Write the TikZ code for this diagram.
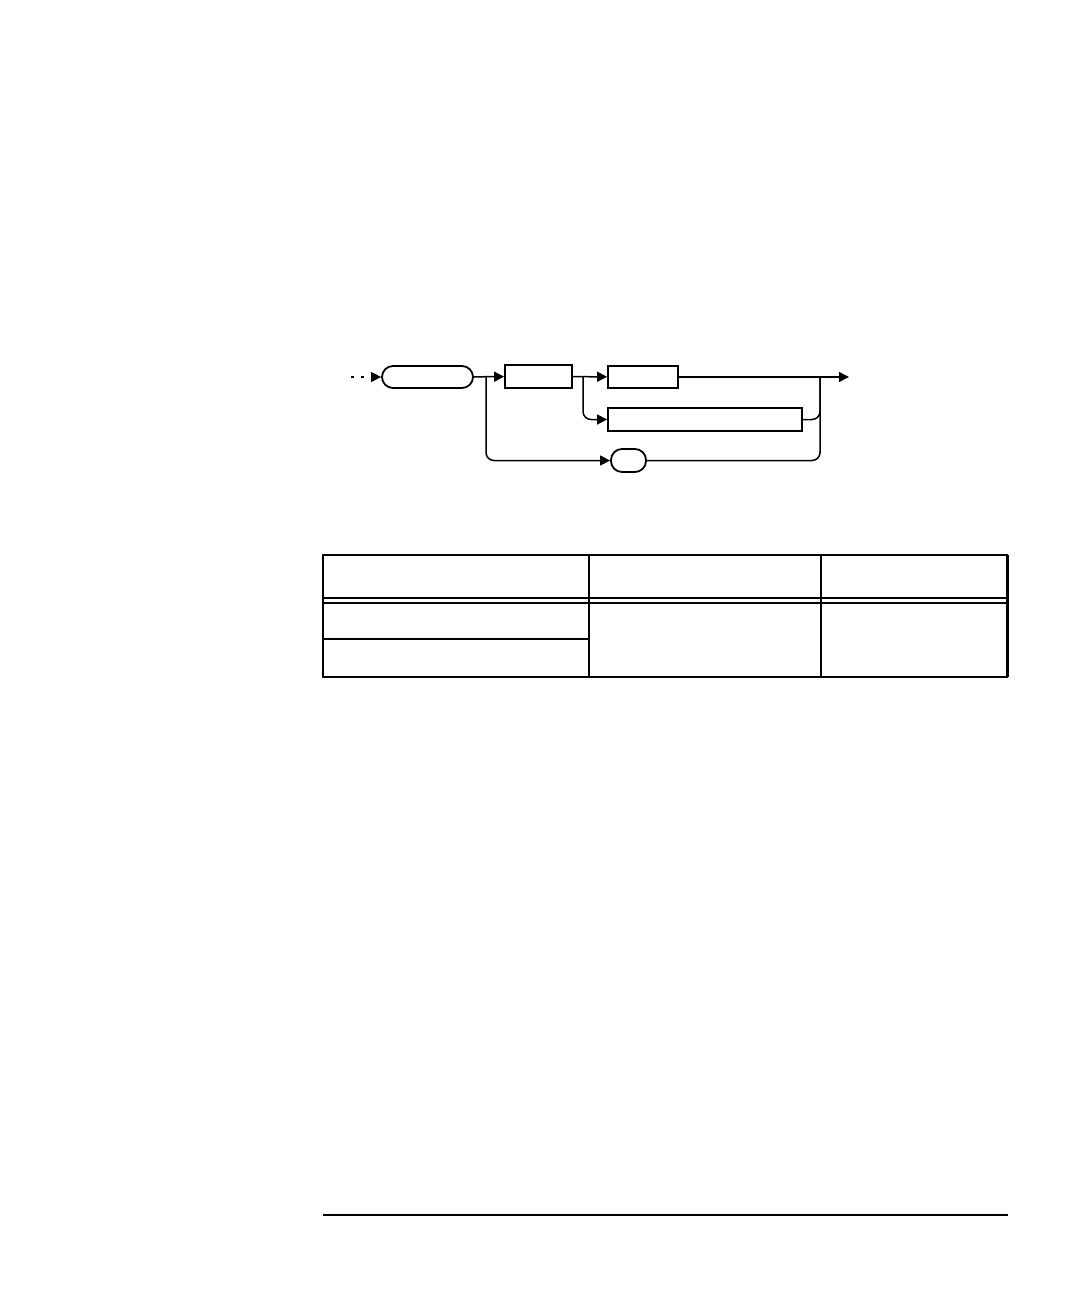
\documentclass[tikz,border=0pt]{standalone}
\usepackage{tikz}
\usetikzlibrary{arrows.meta, calc, positioning}

\tikzset{
    term/.style={draw, line width=0.9pt, rounded corners=5.5pt, minimum height=11pt, inner sep=0pt},
    field/.style={draw, line width=0.9pt, minimum height=11.5pt, inner sep=0pt},
    rule/.style={line width=0.75pt}
}

\begin{document}
\begin{tikzpicture}[x=0.5pt, y=-0.5pt, line width=0.75pt, >={Triangle[length=5pt, width=5pt]}]
                        \useasboundingbox (0, 0) rectangle (1080, 1296);

                        \node[term, minimum width=45.5pt] (entry) at (427.5, 377) {};
                        \node[field, minimum width=33.5pt] (key) at (538.5, 376.5) {};
                        \node[field, minimum width=35pt, minimum height=11pt] (optA) at (643, 377) {};
                        \node[field, minimum width=97pt] (optB) at (705, 419.5) {};
                        \node[term, minimum width=17.5pt, minimum height=11.5pt] (sep) at (628.5, 460.5) {};

                        \coordinate (in) at (351, 377);
                        \coordinate (fork1) at (486, 377);
                        \coordinate (fork2) at (583, 377);
                        \coordinate (join) at (820, 377);
                        \coordinate (out) at (849, 377);

                        \draw[->, dash pattern=on 1.6pt off 3.4pt] (in) -- (entry);
                        \draw
                        (entry) edge[->] (key)
                        (key) edge[->] (optA)
                        (optA) edge[->] (out);

                        \draw[->, rounded corners=4pt] (fork1) |- (sep);
                        \draw[->, rounded corners=4pt] (fork2) |- (optB);
                        \draw[rounded corners=4pt] (sep) -| (join);
                        \draw[rounded corners=4pt] (optB) -| (join);

                        \draw[rule]
                        (323, 555) rectangle (1007, 677)
                        (589, 555) -- (589, 677)
                        (821, 555) -- (821, 677)
                        (323, 598) -- (1007, 598)
                        (323, 603) -- (1007, 603)
                        (323, 639) -- (589, 639);
                        \draw[line width=1.2pt] (1007.5, 555) -- (1007.5, 677);

                        \draw[line width=0.7pt] (323, 1215) -- (1008, 1215);
                    \end{tikzpicture}
\end{document}
